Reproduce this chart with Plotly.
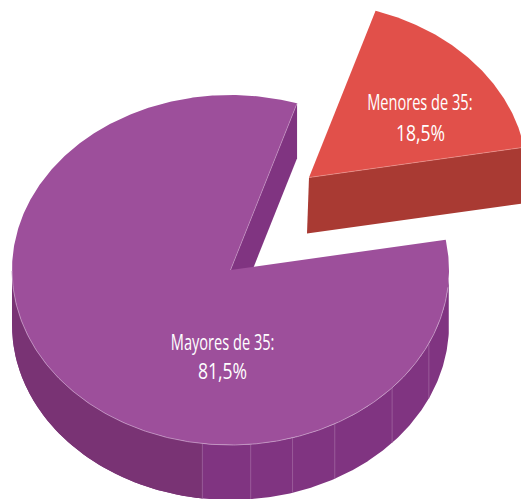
import math
import plotly.graph_objects as go

# ---- data ----
categories = ["Mayores de 35", "Menores de 35"]
shares = [81.5, 18.5]
top_colors = ["#9D4F9B", "#E1504A"]
wall_colors = ["#803481", "#A93A33"]
left_wall_color = "#793374"
rim_colors = ["#C79AC6", "#EE9C96"]
# where the faceted side wall of the large slice has its light seams (degrees clockwise from top)
seam_angles = [187.4, 174.7, 163.5, 151.5, 132.3, 114.8]

# ---- drawing geometry ----
W, H = 521, 499
CX, CY = 230.5, 270
RX, RY = 218.5, 175
DEPTH = 55
PULL = (78.5, -92.5)
ROTATION = 15.6       # clockwise start of the small slice
SKEW = 2.34           # foreshortening of the drawn angle
SKEW_CENTER = 48.5


def screen_angle(t):
    return t - SKEW * math.sin(math.radians(2 * (t - SKEW_CENTER)))


def rim(t, cx=CX, cy=CY, dy=0, warp=True):
    a = math.radians(screen_angle(t) if warp else t)
    return cx + RX * math.sin(a), cy - RY * math.cos(a) + dy


def arc(t0, t1, cx=CX, cy=CY, dy=0, warp=True):
    n = max(2, int(abs(t1 - t0) * 2))
    pts = [rim(t0 + (t1 - t0) * i / n, cx, cy, dy, warp) for i in range(n + 1)]
    return [p[0] for p in pts], [p[1] for p in pts]


def poly(x, y, color, line=None, width=0):
    return go.Scatter(
        x=x, y=y, mode="lines", fill="toself", fillcolor=color,
        line=dict(color=line or color, width=width if line else 0),
        hoverinfo="skip", showlegend=False,
    )


def stroke(x, y, color, width=0.8):
    return go.Scatter(x=x, y=y, mode="lines", line=dict(color=color, width=width),
                      hoverinfo="skip", showlegend=False)


small_sweep = shares[1] * 3.6
small_start = ROTATION
small_end = ROTATION + small_sweep
big_start = small_end
big_end = ROTATION + 360

fig = go.Figure()

# --- large slice: side wall of the outer rim
wx, wy = arc(95, 270)
bx, by = arc(270, 95, dy=DEPTH)
fig.add_trace(poly(wx + bx, wy + by, wall_colors[0]))
# darker left-hand section of the wall
lx, ly = arc(187.4, 270, warp=False)
lbx, lby = arc(270, 187.4, dy=DEPTH, warp=False)
fig.add_trace(poly(lx + lbx, ly + lby, left_wall_color))
# seams
for s in seam_angles:
    x0, y0 = rim(s, warp=False)
    x1, y1 = rim(s, dy=DEPTH, warp=False)
    fig.add_trace(stroke([x0, x1], [y0, y1], "#9F65A0", 0.8))

# --- large slice: cut wall at the end of the slice
ex, ey = rim(big_end)
fig.add_trace(poly([CX, ex, ex, CX], [CY, ey, ey + DEPTH, CY + DEPTH], wall_colors[0]))

# --- large slice: top face
tx, ty = arc(big_start, big_end)
fig.add_trace(poly([CX] + tx + [CX], [CY] + ty + [CY], top_colors[0]))
# light rim along the front and along the cut
rx_, ry_ = arc(98, 272)
fig.add_trace(stroke(rx_, ry_, rim_colors[0], 0.8))
fig.add_trace(stroke([CX, ex], [CY, ey], rim_colors[0], 0.6))

# --- small slice, pulled out
cx2, cy2 = CX + PULL[0], CY + PULL[1]
sx1, sy1 = rim(small_end, cx2, cy2)
fig.add_trace(poly([cx2, sx1, sx1, cx2 - 2], [cy2, sy1, sy1 + DEPTH + 1, cy2 + DEPTH + 1], wall_colors[1]))
tx2, ty2 = arc(small_start, small_end, cx2, cy2)
fig.add_trace(poly([cx2] + tx2 + [cx2], [cy2] + ty2 + [cy2], top_colors[1]))
fig.add_trace(stroke([cx2, sx1], [cy2, sy1], rim_colors[1], 0.6))

# --- labels
label_pos = {0: (222, 342, 370), 1: (420, 102, 132)}
annotations = []
for i, name in enumerate(categories):
    xp, y1, y2 = label_pos[i]
    for yp, txt, size in ((y1, f"{name}:", 21), (y2, f"{shares[i]:.1f}%".replace(".", ","), 22.5)):
        annotations.append(dict(
            x=xp, y=yp, xref="x", yref="y", text=txt, showarrow=False,
            xanchor="center", yanchor="middle",
            font=dict(family="Open Sans", size=size, color="#FFFFFF"),
        ))

fig.update_layout(
    width=W, height=H, autosize=False,
    margin=dict(l=0, r=0, t=0, b=0, pad=0),
    paper_bgcolor="#FFFFFF", plot_bgcolor="#FFFFFF",
    showlegend=False, annotations=annotations,
    xaxis=dict(range=[0, W], visible=False, fixedrange=True),
    yaxis=dict(range=[H, 0], visible=False, fixedrange=True),
)

# Open Sans is wider than the condensed face of the reference: narrow the glyphs of the real text.
narrow_text = """
document.body.style.margin='0';document.body.style.overflow='hidden';
function narrow(){document.querySelectorAll('.annotation-text').forEach(function(t){
  if(t.getAttribute('lengthAdjust'))return;
  var f=t.textContent.indexOf('%')>=0?0.78:0.695;
  t.setAttribute('textLength', t.getComputedTextLength()*f);
  t.setAttribute('lengthAdjust','spacingAndGlyphs');
});}
narrow();
if(document.fonts&&document.fonts.ready){document.fonts.ready.then(narrow);}
"""

fig.write_html("out.html", config={"displayModeBar": False}, post_script=narrow_text)
